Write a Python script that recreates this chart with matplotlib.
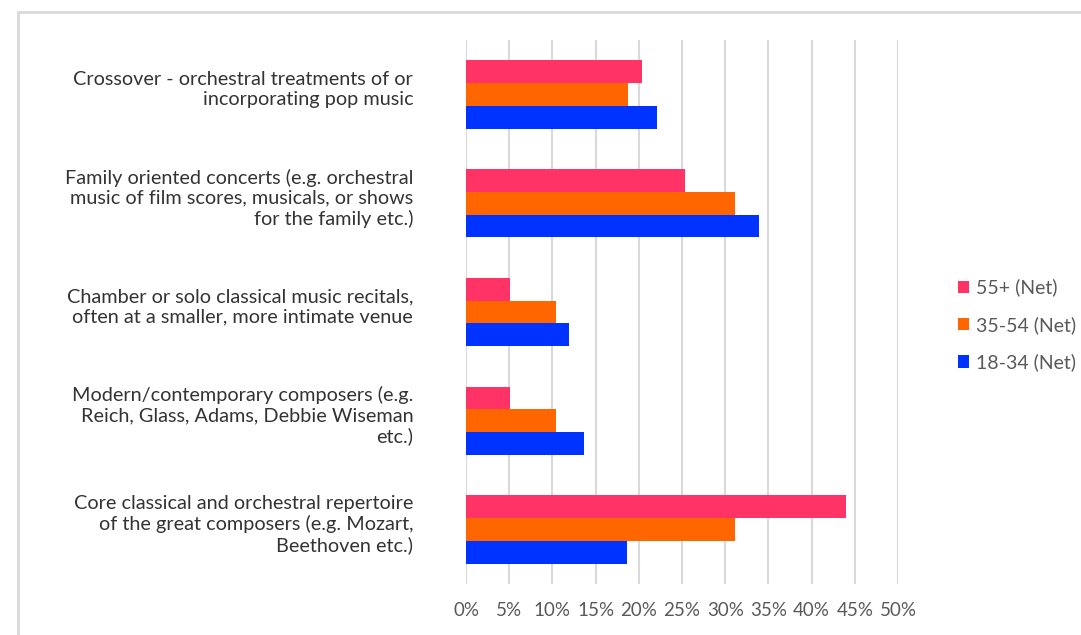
import matplotlib.pyplot as plt
import matplotlib.transforms as mtransforms
import numpy as np
from matplotlib.patches import Rectangle

# categories (bottom to top as drawn)
categories = [
    'Core classical and orchestral repertoire\nof the great composers (e.g. Mozart,\nBeethoven etc.)',
    'Modern/contemporary composers (e.g.\nReich, Glass, Adams, Debbie Wiseman\netc.)',
    'Chamber or solo classical music recitals,\noften at a smaller, more intimate venue',
    'Family oriented concerts (e.g. orchestral\nmusic of film scores, musicals, or shows\nfor the family etc.)',
    'Crossover - orchestral treatments of or\nincorporating pop music',
]
age_18_34 = [18.6, 13.7, 11.9, 33.9, 22.1]
age_35_54 = [31.1, 10.4, 10.4, 31.1, 18.8]
age_55_plus = [44.0, 5.1, 5.1, 25.3, 20.4]
series_names = ['18-34 (Net)', '35-54 (Net)', '55+ (Net)']
colors = ['#0033FF', '#FF6600', '#FF3366']

plt.rcParams['font.family'] = ['Lato', 'DejaVu Sans']

fig = plt.figure(figsize=(10.81, 6.35), dpi=100)
ax = fig.add_axes([466 / 1081, 1 - 584 / 635, 432 / 1081, 544 / 635])

y = np.arange(len(categories))
h = 0.21
bars = []
for i, (vals, name, c) in enumerate(zip([age_18_34, age_35_54, age_55_plus], series_names, colors)):
    b = ax.barh(y + (i - 1) * h, vals, height=h, color=c, label=name, zorder=3)
    bars.append(b)

ax.set_xlim(0, 50)
ax.set_ylim(-0.5, 4.5)
ax.set_xticks(np.arange(0, 51, 5))
ax.set_xticklabels([f'{v}%' for v in range(0, 51, 5)], color='#595959', fontsize=13.5)
ax.set_yticks(y)
ax.set_yticklabels(categories, color='#333333', fontsize=14.3, linespacing=1.2)
ax.tick_params(axis='both', length=0)
ax.tick_params(axis='x', pad=13)
ax.tick_params(axis='y', pad=38)
ax.grid(axis='x', color='#d9d9d9', linewidth=1.5, zorder=0)
for s in ax.spines.values():
    s.set_visible(False)

# labels sit a little above the middle of each group
shift = mtransforms.ScaledTranslation(0, 8 / 100, fig.dpi_scale_trans)
for lab in ax.get_yticklabels():
    lab.set_transform(lab.get_transform() + shift)

handles = [bars[2], bars[1], bars[0]]
leg = ax.legend(handles, ['55+ (Net)', '35-54 (Net)', '18-34 (Net)'],
                loc='center left', bbox_to_anchor=(940 / 1081, 1 - 325 / 635),
                bbox_transform=fig.transFigure, frameon=False, fontsize=14,
                handlelength=0.6, handleheight=0.6, handletextpad=0.35,
                labelspacing=1.0, labelcolor='#595959')

# outer border of the chart area
fig.patches.append(Rectangle((18 / 1081, -0.05), 1.1, 1 - 12 / 635 + 0.05,
                             transform=fig.transFigure, fill=False,
                             edgecolor='#d9d9d9', linewidth=2))

fig.savefig('out.png', dpi=100)
